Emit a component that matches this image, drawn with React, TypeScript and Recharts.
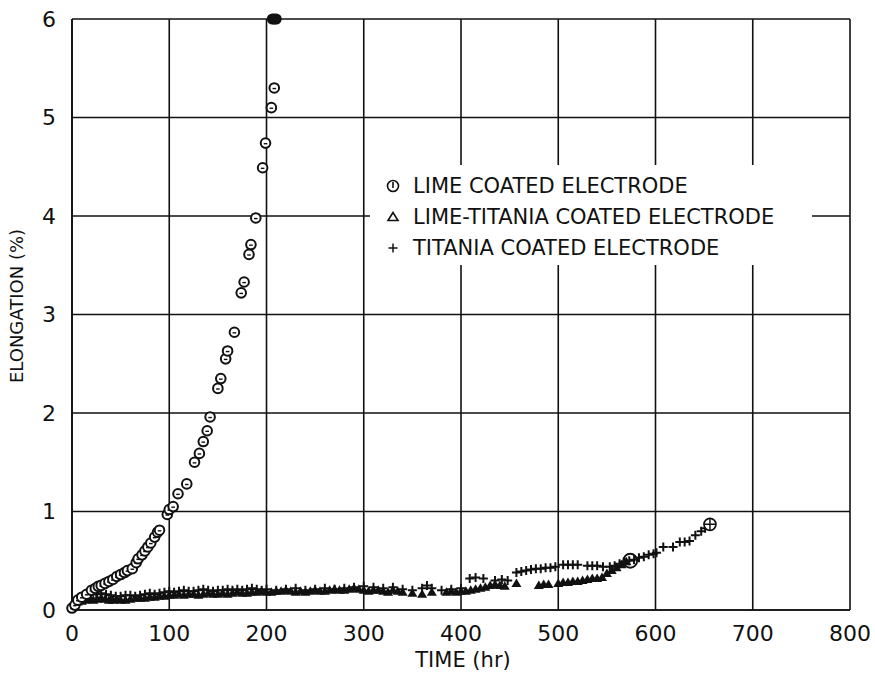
import React from "react";
import { ScatterChart, Scatter, XAxis, YAxis, CartesianGrid } from "recharts";

// lime coated electrode (circles)
const limeTime = [0, 3, 6, 10, 15, 20, 24, 27, 30, 34, 38, 42, 46, 50, 54, 57, 62, 66, 68, 72, 75, 78, 81, 85, 88, 90, 98, 100, 104, 109, 118, 126, 131, 135, 139, 142, 150, 153, 158, 160, 167, 174, 177, 182, 184, 189, 196, 199, 205, 208, 206, 208, 210];
const limeElong = [0.02, 0.05, 0.1, 0.13, 0.16, 0.2, 0.22, 0.24, 0.25, 0.27, 0.29, 0.31, 0.34, 0.36, 0.38, 0.4, 0.42, 0.48, 0.52, 0.56, 0.6, 0.64, 0.68, 0.74, 0.79, 0.81, 0.97, 1.02, 1.05, 1.18, 1.28, 1.5, 1.59, 1.71, 1.82, 1.96, 2.25, 2.35, 2.55, 2.63, 2.82, 3.22, 3.33, 3.61, 3.71, 3.98, 4.49, 4.74, 5.1, 5.3, 6.0, 6.0, 6.0];

// lime-titania coated electrode (triangles)
const ltTime = [0, 3, 6, 10, 14, 18, 22, 26, 30, 34, 38, 42, 46, 50, 55, 60, 65, 70, 75, 80, 85, 90, 95, 100, 105, 110, 115, 120, 125, 130, 135, 140, 145, 150, 155, 160, 165, 170, 175, 180, 185, 190, 195, 200, 205, 210, 215, 220, 225, 230, 235, 240, 245, 250, 255, 260, 265, 270, 275, 280, 285, 290, 295, 300, 305, 310, 315, 320, 325, 330, 335, 340, 350, 360, 370, 385, 390, 395, 400, 405, 410, 415, 420, 425, 430, 435, 440, 445, 457, 480, 485, 490, 500, 505, 510, 515, 520, 525, 530, 535, 540, 545, 550, 555, 560, 565, 570, 574];
const ltElong = [0.02, 0.05, 0.08, 0.09, 0.1, 0.11, 0.1, 0.11, 0.12, 0.11, 0.1, 0.1, 0.11, 0.1, 0.1, 0.11, 0.12, 0.12, 0.12, 0.13, 0.13, 0.14, 0.14, 0.15, 0.15, 0.16, 0.15, 0.16, 0.16, 0.15, 0.16, 0.17, 0.16, 0.16, 0.17, 0.16, 0.17, 0.18, 0.17, 0.17, 0.18, 0.18, 0.19, 0.18, 0.18, 0.19, 0.19, 0.2, 0.19, 0.18, 0.19, 0.18, 0.19, 0.2, 0.19, 0.19, 0.2, 0.21, 0.2, 0.2, 0.21, 0.22, 0.21, 0.2, 0.19, 0.2, 0.2, 0.19, 0.18, 0.2, 0.19, 0.18, 0.17, 0.16, 0.18, 0.18, 0.19, 0.18, 0.19, 0.19, 0.2, 0.21, 0.22, 0.23, 0.25, 0.26, 0.25, 0.24, 0.27, 0.25, 0.26, 0.26, 0.27, 0.28, 0.28, 0.29, 0.29, 0.3, 0.31, 0.32, 0.32, 0.33, 0.37, 0.4, 0.43, 0.46, 0.49, 0.5];

// titania coated electrode (plus)
const tiTime = [0, 3, 6, 9, 12, 16, 20, 25, 30, 35, 40, 45, 50, 55, 60, 65, 70, 75, 80, 85, 90, 95, 100, 105, 110, 115, 120, 125, 130, 135, 140, 145, 150, 155, 160, 165, 170, 175, 180, 185, 190, 195, 200, 210, 220, 230, 240, 250, 260, 270, 280, 290, 300, 310, 320, 330, 340, 350, 360, 365, 370, 380, 390, 400, 409, 415, 423, 435, 442, 448, 457, 462, 467, 472, 477, 482, 487, 492, 497, 505, 510, 515, 520, 530, 535, 540, 546, 553, 558, 563, 568, 573, 578, 583, 588, 593, 598, 601, 608, 618, 625, 630, 635, 641, 647, 651, 656];
const tiElong = [0.02, 0.06, 0.1, 0.12, 0.14, 0.15, 0.16, 0.16, 0.17, 0.16, 0.15, 0.14, 0.14, 0.15, 0.15, 0.14, 0.15, 0.16, 0.17, 0.16, 0.17, 0.18, 0.19, 0.18, 0.19, 0.2, 0.19, 0.19, 0.2, 0.21, 0.2, 0.19, 0.2, 0.2, 0.21, 0.2, 0.21, 0.2, 0.21, 0.22, 0.21, 0.2, 0.21, 0.2, 0.21, 0.22, 0.2, 0.21, 0.22, 0.21, 0.22, 0.23, 0.24, 0.23, 0.22, 0.23, 0.21, 0.2, 0.22, 0.25, 0.22, 0.2, 0.21, 0.22, 0.32, 0.33, 0.32, 0.3, 0.31, 0.3, 0.38, 0.39, 0.4, 0.41, 0.42, 0.42, 0.43, 0.43, 0.44, 0.46, 0.46, 0.46, 0.46, 0.45, 0.45, 0.45, 0.44, 0.44, 0.45, 0.47, 0.49, 0.5, 0.51, 0.53, 0.54, 0.56, 0.57, 0.58, 0.64, 0.64, 0.69, 0.69, 0.7, 0.76, 0.8, 0.83, 0.87];

const xTicks = [0, 100, 200, 300, 400, 500, 600, 700, 800];
const yTicks = [0, 1, 2, 3, 4, 5, 6];

const legendLabels = [
  "LIME COATED ELECTRODE",
  "LIME-TITANIA COATED ELECTRODE",
  "TITANIA COATED ELECTRODE",
];

const INK = "#111";
const FONT = "'DejaVu Sans', sans-serif";

const toPoints = (ts: number[], es: number[]) => ts.map((t, i) => ({ t, e: es[i] }));

const limeData = toPoints(limeTime, limeElong);
const ltData = toPoints(ltTime, ltElong);
const tiData = toPoints(tiTime, tiElong);

function LimeDot(props: any) {
  const { cx, cy, payload } = props;
  if (cx == null || cy == null) return null;
  // points that ran off the top of the scale pile up into a black blob
  if (payload && payload.e >= 6) {
    return <circle cx={cx} cy={cy} r={5.5} fill={INK} />;
  }
  return (
    <g>
      <circle cx={cx} cy={cy} r={4.8} fill="#fff" stroke={INK} strokeWidth={2} />
      <path d={`M${cx - 1.8} ${cy + 0.6} h3.6`} stroke={INK} strokeWidth={1.4} />
    </g>
  );
}

function TriDot(props: any) {
  const { cx, cy, index } = props;
  if (cx == null || cy == null) return null;
  if (index === ltTime.length - 1) {
    return <circle cx={cx} cy={cy} r={7} fill="none" stroke={INK} strokeWidth={1.8} />;
  }
  return <path d={`M${cx} ${cy - 5} L${cx - 5} ${cy + 3.5} L${cx + 5} ${cy + 3.5} Z`} fill={INK} />;
}

function PlusDot(props: any) {
  const { cx, cy, index } = props;
  if (cx == null || cy == null) return null;
  if (index === tiTime.length - 1) {
    return (
      <g>
        <circle cx={cx} cy={cy} r={6} fill="#fff" stroke={INK} strokeWidth={1.7} />
        <path d={`M${cx - 6} ${cy} h12 M${cx} ${cy - 6} v12`} stroke={INK} strokeWidth={1.5} />
      </g>
    );
  }
  return <path d={`M${cx - 4.5} ${cy} h9 M${cx} ${cy - 4.5} v9`} stroke={INK} strokeWidth={2} />;
}

function LegendIcon({ kind }: { kind: number }) {
  return (
    <svg width={16} height={16} style={{ marginRight: 12 }}>
      {kind === 0 && (
        <g>
          <circle cx={8} cy={8} r={5.5} fill="none" stroke={INK} strokeWidth={1.6} />
          <path d="M8 4 v6" stroke={INK} strokeWidth={1.6} />
        </g>
      )}
      {kind === 1 && (
        <path d="M8 3.5 L3 11.5 L13 11.5 Z" fill="none" stroke={INK} strokeWidth={1.6} />
      )}
      {kind === 2 && <path d="M3.5 8 h9 M8 3.5 v9" stroke={INK} strokeWidth={1.5} />}
    </svg>
  );
}

export default function App() {
  const tick = { fontSize: 22, fill: INK, fontFamily: FONT };
  const axisLine = { stroke: INK, strokeWidth: 1.7 };
  return (
    <div style={{ position: "absolute", left: 0, top: 0, width: 875, height: 673, background: "#fff", fontFamily: FONT, color: INK, overflow: "hidden" }}>
      <ScatterChart width={875} height={673} margin={{ top: 19, right: 25, bottom: 0, left: 0 }}>
        <CartesianGrid stroke={INK} strokeWidth={1.6} fill="none" />
        <XAxis
          type="number"
          dataKey="t"
          domain={[0, 800]}
          ticks={xTicks}
          tickLine={false}
          tickSize={0}
          tickMargin={15}
          axisLine={axisLine}
          tick={tick}
          height={63}
        />
        <YAxis
          type="number"
          dataKey="e"
          domain={[0, 6]}
          ticks={yTicks}
          tickLine={false}
          tickSize={0}
          tickMargin={16}
          axisLine={axisLine}
          tick={tick}
          width={72}
        />
        <Scatter data={ltData} shape={TriDot} isAnimationActive={false} />
        <Scatter data={tiData} shape={PlusDot} isAnimationActive={false} />
        <Scatter data={limeData} shape={LimeDot} isAnimationActive={false} />
      </ScatterChart>

      <div
        style={{
          position: "absolute",
          left: 370,
          top: 165,
          width: 442,
          height: 100,
          background: "#fff",
          boxSizing: "border-box",
          paddingLeft: 15,
          paddingTop: 5,
        }}
      >
        {legendLabels.map((label, i) => (
          <div key={label} style={{ display: "flex", alignItems: "center", height: 31, fontSize: 21, whiteSpace: "nowrap" }}>
            <LegendIcon kind={i} />
            <span>{label}</span>
          </div>
        ))}
      </div>

      <div
        style={{
          position: "absolute",
          left: 17,
          top: 306,
          transform: "translate(-50%, -50%) rotate(-90deg)",
          fontSize: 18,
          lineHeight: 1,
          whiteSpace: "nowrap",
        }}
      >
        ELONGATION (%)
      </div>
      <div
        style={{
          position: "absolute",
          left: 463,
          top: 660,
          transform: "translate(-50%, -50%)",
          fontSize: 21,
          lineHeight: 1,
          whiteSpace: "nowrap",
        }}
      >
        TIME (hr)
      </div>
    </div>
  );
}
